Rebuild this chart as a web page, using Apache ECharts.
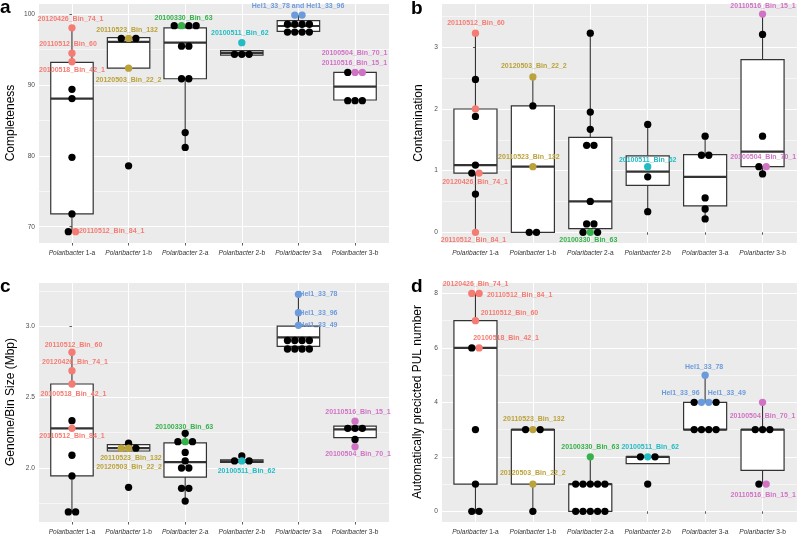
<!DOCTYPE html>
<html><head><meta charset="utf-8">
<script src="https://cdn.jsdelivr.net/npm/echarts@6/dist/echarts.min.js"></script>
<style>html,body{margin:0;padding:0;background:#fff}#c{width:798px;height:536px}</style>
</head><body><div id="c"></div>
<script>
// ---------- DATA ----------
const categories = ['Polaribacter 1-a','Polaribacter 1-b','Polaribacter 2-a','Polaribacter 2-b','Polaribacter 3-a','Polaribacter 3-b'];
const groupColors = ['#F47C72','#BBA23A','#35B24A','#22BCC4','#6C9BDB','#D173C5'];

// points: [categoryIndex, value, highlighted(1)/black(0), label]
const completenessPoints = [
  [0,98.1,1,'20120426_Bin_74_1'],[0,94.5,1,'20110512_Bin_60'],[0,93.3,1,'20100518_Bin_42_1'],[0,89.4,0],[0,88.1,0],[0,79.8,0],[0,71.8,0],[0,69.3,0],[0,69.3,1,'20110512_Bin_84_1'],
  [1,96.6,0],[1,96.6,1,'20110523_Bin_132'],[1,96.6,0],[1,92.4,1,'20120503_Bin_22_2'],[1,78.6,0],
  [2,98.4,0],[2,98.4,1,'20100330_Bin_63'],[2,98.4,0],[2,98.4,0],[2,95.5,0],[2,95.5,0],[2,90.9,0],[2,90.9,0],[2,83.3,0],[2,81.2,0],
  [3,96.0,1,'20100511_Bin_62'],[3,94.35,0],[3,94.35,0],[3,94.35,0],
  [4,99.9,1,'Hel1_33_78 and Hel1_33_96'],[4,99.9,1],[4,98.6,0],[4,98.6,0],[4,98.6,0],[4,98.6,0],[4,97.5,0],[4,97.5,0],[4,97.5,0],[4,97.5,0],
  [5,91.8,0],[5,91.8,1,'20100504_Bin_70_1'],[5,91.8,1,'20110516_Bin_15_1'],[5,87.8,0],[5,87.8,0],[5,87.8,0]
];
const contaminationPoints = [
  [0,3.23,1,'20110512_Bin_60'],[0,2.48,0],[0,2.0,1],[0,1.88,0],[0,1.09,0],[0,0.96,0],[0,0.96,1,'20120426_Bin_74_1'],[0,0.62,0],[0,0,1,'20110512_Bin_84_1'],
  [1,2.52,1,'20120503_Bin_22_2'],[1,2.05,0],[1,1.065,1,'20110523_Bin_132'],[1,0,0],[1,0,0],
  [2,3.23,0],[2,1.95,0],[2,1.67,0],[2,1.41,0],[2,1.41,0],[2,0.5,0],[2,0.135,0],[2,0.135,0],[2,0,0],[2,0,1,'20100330_Bin_63'],[2,0,0],
  [3,1.75,0],[3,1.065,1,'20100511_Bin_62'],[3,0.9,0],[3,0.335,0],
  [4,1.56,0],[4,1.25,0],[4,1.25,0],[4,0.557,0],[4,0.378,0],[4,0.216,0],
  [5,3.54,1,'20110516_Bin_15_1'],[5,3.21,0],[5,1.56,0],[5,1.065,0],[5,1.065,1,'20100504_Bin_70_1'],[5,0.946,0]
];
const genomeSizePoints = [
  [0,2.817,1,'20110512_Bin_60'],[0,2.687,1,'20120426_Bin_74_1'],[0,2.593,1,'20100518_Bin_42_1'],[0,2.334,0],[0,2.28,1,'20110512_Bin_84_1'],[0,2.09,0],[0,1.944,0],[0,1.69,0],[0,1.69,0],
  [1,2.175,0],[1,2.14,1,'20110523_Bin_132'],[1,2.14,1,'20120503_Bin_22_2'],[1,2.14,0],[1,1.864,0],
  [2,2.245,0],[2,2.186,0],[2,2.186,1,'20100330_Bin_63'],[2,2.186,0],[2,2.11,0],[2,2.05,0],[2,2.0,0],[2,2.0,0],[2,1.857,0],[2,1.857,0],[2,1.767,0],
  [3,2.085,0],[3,2.05,0],[3,2.05,1,'20100511_Bin_62'],[3,2.05,0],
  [4,3.226,1,'Hel1_33_78'],[4,3.096,1,'Hel1_33_96'],[4,3.007,1,'Hel1_33_49'],[4,2.90,0],[4,2.90,0],[4,2.90,0],[4,2.90,0],[4,2.84,0],[4,2.84,0],[4,2.84,0],[4,2.84,0],
  [5,2.33,1,'20110516_Bin_15_1'],[5,2.28,0],[5,2.28,0],[5,2.28,0],[5,2.202,0],[5,2.15,1,'20100504_Bin_70_1']
];
const pulPoints = [
  [0,8,1,'20120426_Bin_74_1'],[0,8,1,'20110512_Bin_84_1'],[0,7,1,'20110512_Bin_60'],[0,6,0],[0,6,1,'20100518_Bin_42_1'],[0,3,0],[0,1,0],[0,0,0],[0,0,0],
  [1,3,0],[1,3,1,'20110523_Bin_132'],[1,3,0],[1,1,1,'20120503_Bin_22_2'],[1,0,0],
  [2,2,1,'20100330_Bin_63'],[2,1,0],[2,1,0],[2,1,0],[2,1,0],[2,1,0],[2,0,0],[2,0,0],[2,0,0],[2,0,0],[2,0,0],
  [3,2,0],[3,2,1,'20100511_Bin_62'],[3,2,0],[3,1,0],
  [4,5,1,'Hel1_33_78'],[4,4,0],[4,4,1,'Hel1_33_96'],[4,4,1,'Hel1_33_49'],[4,4,0],[4,3,0],[4,3,0],[4,3,0],[4,3,0],
  [5,4,1,'20100504_Bin_70_1'],[5,3,0],[5,3,0],[5,3,0],[5,1,0],[5,1,1,'20110516_Bin_15_1']
];

// box stats: [lowerWhisker, Q1, median, Q3, upperWhisker]
const completenessBoxes = [[69.3,71.8,88.1,93.2,98.1],[92.4,92.4,96.1,96.7,96.7],[81.2,90.9,96.0,98.1,98.4],[94.25,94.25,94.55,94.86,94.86],[97.5,97.6,98.35,99.1,99.9],[87.8,87.9,89.8,91.8,91.8]];
const contaminationBoxes = [[0,0.96,1.09,2.0,3.23],[0,0,1.065,2.05,2.52],[0,0.06,0.5,1.54,3.23],[0.335,0.76,0.985,1.24,1.75],[0.216,0.427,0.9,1.26,1.56],[0.946,1.065,1.31,2.8,3.54]];
const genomeSizeBoxes = [[1.69,1.944,2.28,2.593,2.817],[2.12,2.12,2.14,2.165,2.175],[1.767,1.936,2.042,2.178,2.245],[2.04,2.04,2.047,2.057,2.085],[2.84,2.859,2.922,3.002,3.226],[2.15,2.214,2.273,2.296,2.33]];
const pulBoxes = [[0,1,6,7,8],[0,1,3,3,3],[0,0,1,1,2],[1.75,1.75,2,2,2],[3,3,3,4,5],[1,1.5,3,3,4]];

const yTitles = ['Completeness','Contamination','Genome/Bin Size (Mbp)','Automatically precicted PUL number'];
const panelLetters = ['a','b','c','d'];

// ---------- LAYOUT / STYLE ----------
const labelOffsets = [
  {'20120426_Bin_74_1':[-1.5,-9],'20110512_Bin_60':[-4,-9.5],'20100518_Bin_42_1':[0,8],'20110512_Bin_84_1':[36,-1],
   '20110523_Bin_132':[-1.5,-8],'20120503_Bin_22_2':[0,11.5],'20100330_Bin_63':[2,-7.5],'20100511_Bin_62':[-2,-10],
   'Hel1_33_78 and Hel1_33_96':[3.3,-9.3],'20100504_Bin_70_1':[-0.5,-19],'20110516_Bin_15_1':[-8,-9]},
  {'20110512_Bin_60':[0.5,-10],'20120426_Bin_74_1':[-4,9],'20110512_Bin_84_1':[-2,7.5],'20120503_Bin_22_2':[1,-11],
   '20110523_Bin_132':[-4,-10],'20100330_Bin_63':[-2,7.5],'20100511_Bin_62':[0,-6.5],'20110516_Bin_15_1':[0.5,-8.5],'20100504_Bin_70_1':[-3,-10]},
  {'20110512_Bin_60':[1.5,-7],'20120426_Bin_74_1':[3,-9],'20100518_Bin_42_1':[1.5,10],'20110512_Bin_84_1':[0,8],
   '20110523_Bin_132':[9.7,10],'20120503_Bin_22_2':[0.5,19],'20100330_Bin_63':[-1,-15],'20100511_Bin_62':[4.7,10],
   'Hel1_33_78':[20,0],'Hel1_33_96':[20,0],'Hel1_33_49':[20,0],'20110516_Bin_15_1':[3,-9],'20100504_Bin_70_1':[3,7]},
  {'20120426_Bin_74_1':[3.75,-9.3],'20110512_Bin_84_1':[40.5,1.7],'20110512_Bin_60':[34,-7.3],'20100518_Bin_42_1':[27,-10],
   '20110523_Bin_132':[1,-10.3],'20120503_Bin_22_2':[0,-10.7],'20100330_Bin_63':[0,-10],'20100511_Bin_62':[2.5,-10],
   'Hel1_33_78':[-1,-8.5],'Hel1_33_96':[-21,-9.3],'Hel1_33_49':[18,-9.6],'20100504_Bin_70_1':[0,13.4],'20110516_Bin_15_1':[-3,11]}
];
const grids = [
  {left:38, top:3, width:351, height:240},
  {left:441, top:3, width:356, height:240},
  {left:38, top:282, width:351, height:240},
  {left:441, top:282, width:356, height:240}
];
const yScales = [
  {min:67.7, max:101.6, step:10, dec:0, gap:21},
  {min:-0.174, max:3.72, step:1, dec:0, gap:16},
  {min:1.619, max:3.313, step:0.5, dec:1, gap:21},
  {min:-0.393, max:8.42, step:2, dec:0, gap:17}
];
const letterPos = [[0,-2],[411,-1],[0,277],[411,277]];
const FONT = "'Liberation Sans', Arial, sans-serif";
const DOT_PX = 7.3, BOX_W = 0.75, X_MIN = -0.6, X_MAX = 5.6;

const panelPoints = [completenessPoints, contaminationPoints, genomeSizePoints, pulPoints];
const panelBoxes = [completenessBoxes, contaminationBoxes, genomeSizeBoxes, pulBoxes];

function stackX(points, pxPerUnit) {
  const spacing = DOT_PX / pxPerUnit;
  const groups = new Map();
  points.forEach((p, i) => {
    const key = p[0] + '|' + p[1];
    if (!groups.has(key)) groups.set(key, []);
    groups.get(key).push(i);
  });
  const xs = new Array(points.length);
  groups.forEach(idx => {
    const n = idx.length;
    idx.forEach((pi, k) => { xs[pi] = points[pi][0] + (k - (n - 1) / 2) * spacing; });
  });
  return xs;
}

function renderBox(params, api) {
  const x = api.value(0);
  const p = [1,2,3,4,5].map(d => api.coord([x, api.value(d)]));
  const halfW = api.size([BOX_W, 0])[0] / 2;
  const cx = p[0][0];
  const stroke = '#333333';
  return {type:'group', children:[
    {type:'line', shape:{x1:cx, y1:p[4][1], x2:cx, y2:p[3][1]}, style:{stroke, lineWidth:1.1}},
    {type:'line', shape:{x1:cx, y1:p[1][1], x2:cx, y2:p[0][1]}, style:{stroke, lineWidth:1.1}},
    {type:'rect', shape:{x:cx-halfW, y:p[3][1], width:2*halfW, height:Math.max(p[1][1]-p[3][1],0.5)}, style:{fill:'#ffffff', stroke, lineWidth:1.2}},
    {type:'line', shape:{x1:cx-halfW, y1:p[2][1], x2:cx+halfW, y2:p[2][1]}, style:{stroke, lineWidth:2.2}}
  ]};
}

const xAxes = [], yAxes = [], series = [], graphics = [];
grids.forEach((g, gi) => {
  xAxes.push({
    type:'value', gridIndex:gi, min:X_MIN, max:X_MAX, minInterval:1, maxInterval:1, splitNumber:6,
    axisLine:{show:false},
    axisTick:{show:true, length:2.5, lineStyle:{color:'#333', width:0.8}},
    axisLabel:{
      margin:7, showMinLabel:false, showMaxLabel:false, fontSize:6.6, color:'#333', fontFamily:FONT,
      formatter: v => {
        const i = Math.round(v);
        if (Math.abs(v - i) > 1e-6 || i < 0 || i >= categories.length) return '';
        const s = categories[i]; const k = s.indexOf(' ');
        return '{i|' + s.slice(0, k) + '} ' + s.slice(k + 1);
      },
      rich:{i:{fontStyle:'italic', fontSize:6.6, color:'#333', fontFamily:FONT}}
    },
    splitLine:{show:true, lineStyle:{color:'#ffffff', width:1.1}}
  });
  const ys = yScales[gi];
  yAxes.push({
    type:'value', gridIndex:gi, min:ys.min, max:ys.max, minInterval:ys.step, maxInterval:ys.step, splitNumber:4,
    name:yTitles[gi], nameLocation:'middle', nameGap:ys.gap, nameRotate:90,
    nameTextStyle:{fontSize:12, color:'#000', fontFamily:FONT},
    axisLine:{show:false},
    axisTick:{show:true, length:2.5, lineStyle:{color:'#333', width:0.8}},
    axisLabel:{margin:3, showMinLabel:false, showMaxLabel:false, fontSize:6.6, color:'#4D4D4D', fontFamily:FONT,
      formatter: v => v.toFixed(ys.dec)},
    splitLine:{show:true, lineStyle:{color:'#ffffff', width:1.1}},
    minorTick:{show:false, splitNumber:2},
    minorSplitLine:{show:true, lineStyle:{color:'#ffffff', width:0.55}}
  });

  const pts = panelPoints[gi];
  const xs = stackX(pts, g.width / (X_MAX - X_MIN));
  const black = [], colored = [], coloredOffsets = [];
  pts.forEach((p, i) => {
    if (p[2]) {
      const col = groupColors[p[0]];
      const item = {value:[xs[i], p[1]], itemStyle:{color:col, opacity:1}};
      if (p[3]) {
        item.label = {show:true, position:'inside', formatter:p[3],
          fontSize:7, fontWeight:'bold', color:col, fontFamily:FONT};
      }
      coloredOffsets.push(p[3] ? (labelOffsets[gi][p[3]] || [0,-10]) : [0,0]);
      colored.push(item);
    } else {
      black.push([xs[i], p[1]]);
    }
  });
  series.push({type:'custom', xAxisIndex:gi, yAxisIndex:gi, z:2, silent:true,
    renderItem:renderBox, encode:{x:0, y:[1,2,3,4,5]},
    data: panelBoxes[gi].map((b, ci) => [ci].concat(b))});
  series.push({type:'scatter', xAxisIndex:gi, yAxisIndex:gi, z:3, silent:true, symbolSize:DOT_PX,
    itemStyle:{color:'#000', opacity:1}, data:black});
  series.push({type:'scatter', xAxisIndex:gi, yAxisIndex:gi, z:4, silent:true, symbolSize:DOT_PX,
    itemStyle:{opacity:1},
    labelLayout: params => {
      const o = coloredOffsets[params.dataIndex] || [0,0];
      return {dx:o[0], dy:o[1], hideOverlap:false};
    },
    data:colored});

  graphics.push({type:'text', left:letterPos[gi][0], top:letterPos[gi][1],
    style:{text:panelLetters[gi], font:'bold 19px ' + FONT, fill:'#000'}});
});

const chart = echarts.init(document.getElementById('c'), null, {renderer:'canvas'});
chart.setOption({
  animation:false,
  backgroundColor:'#ffffff',
  textStyle:{fontFamily:FONT},
  grid: grids.map(g => Object.assign({show:true, backgroundColor:'#EBEBEB', borderWidth:0, containLabel:false}, g)),
  xAxis:xAxes, yAxis:yAxes, series:series, graphic:graphics
});
</script></body></html>
